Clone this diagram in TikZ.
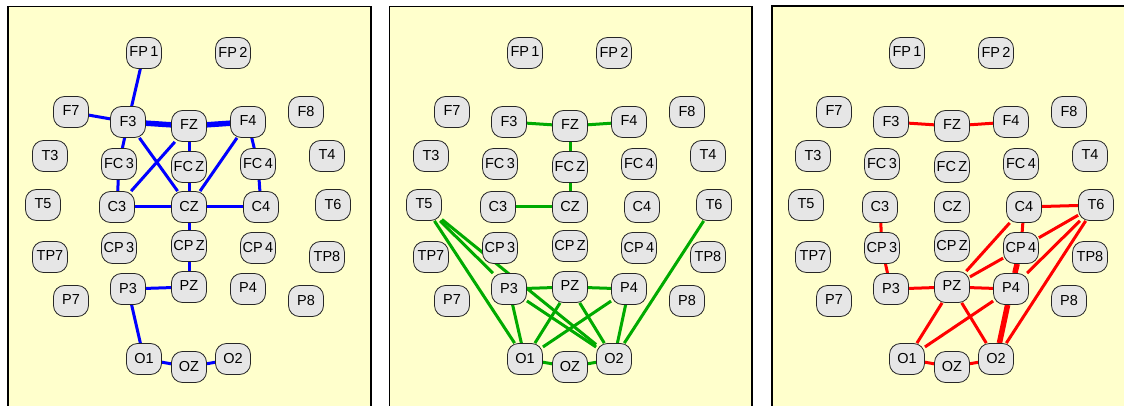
\documentclass[tikz,border=0pt]{standalone}
\usepackage{fontspec}
\setmainfont{Liberation Sans}
\pgfdeclarelayer{back}
\pgfdeclarelayer{edges}
\pgfsetlayers{back,edges,main}
\definecolor{panelbg}{HTML}{FFFFCC}
\definecolor{elfill}{HTML}{E6E6E6}
\definecolor{linkblue}{HTML}{0000FF}
\definecolor{linkgreen}{HTML}{00AA00}
\definecolor{linkred}{HTML}{FF0000}
\tikzset{
  electrode/.style={draw=black!85, line width=0.8pt, fill=elfill, rounded corners=11pt,
    minimum width=35pt, minimum height=31pt, inner sep=0pt,
    font=\fontsize{14.5}{16}\selectfont},
  panelbox/.style={fill=panelbg, draw=black, line width=1.4pt},
  link/.style={line width=3pt},
}
% places the 30 electrodes of one montage; #1 is the name prefix
\newcommand\electrodes[1]{%
  \foreach \n/\x/\y/\t in {FP1/144/53/FP\,1, FP2/233/53/FP\,2,
      F7/71/112/F7, F3/128/122/F3, FZ/189/126/FZ, F4/248/122/F4, F8/306/112/F8,
      T3/50/156/T3, FC3/119/164/FC\,3, FCZ/189/167/FC\,Z, FC4/258/164/FC\,4, T4/327/156/T4,
      T5/43/205/T5, C3/117/207/C3, CZ/189/207/CZ, C4/261/207/C4, T6/333/205/T6,
      TP7/50/257/TP7, CP3/119/248/CP\,3, CPZ/189/246/CP\,Z, CP4/258/248/CP\,4, TP8/327/257/TP8,
      P7/71/301/P7, P3/128/289/P3, PZ/189/287/PZ, P4/248/289/P4, P8/306/301/P8,
      O1/144/359/O1, OZ/189/367/OZ, O2/233/359/O2}
    {\node[electrode] (#1\n) at (\x,\y) {\raisebox{2pt}{\t}};}%
}
\begin{document}
\begin{tikzpicture}[x=1pt,y=-1pt]
\useasboundingbox (0,0) rectangle (1124,406);
\clip (0,0) rectangle (1124,406);

% ---- first montage (blue) ----
\begin{scope}
  \begin{pgfonlayer}{back}
    \draw[panelbox] (8,6.5) rectangle (371,430);
  \end{pgfonlayer}
  \electrodes{a}
  \begin{pgfonlayer}{edges}
    \foreach \u/\v/\w in {FP1/F3/3, F7/F3/3, F3/FZ/5.5, FZ/F4/5.5, F3/FC3/3, FC3/C3/3,
        F3/CZ/3, FZ/C3/3, FZ/FCZ/3, FCZ/CZ/3, F4/CZ/3, F4/FC4/3, FC4/C4/3,
        C3/CZ/3, CZ/C4/3, CZ/CPZ/3, CPZ/PZ/3, P3/PZ/3, P3/O1/3, O1/OZ/3, OZ/O2/3}
      \draw[linkblue, line width=\w pt] (a\u) -- (a\v);
  \end{pgfonlayer}
\end{scope}

% ---- second montage (green) ----
\begin{scope}[xshift=381pt]
  \begin{pgfonlayer}{back}
    \draw[panelbox] (8.5,6.5) rectangle (371,430);
  \end{pgfonlayer}
  \electrodes{b}
  \begin{pgfonlayer}{edges}
    \foreach \u/\v in {F3/FZ, FZ/F4, FZ/FCZ, FCZ/CZ, C3/CZ, T5/P3, T5/O1, T5/O2,
        P3/PZ, PZ/P4, P3/O1, P3/O2, PZ/O1, PZ/O2, P4/O1, P4/O2, T6/O2, O1/OZ, OZ/O2}
      \draw[linkgreen, link] (b\u) -- (b\v);
  \end{pgfonlayer}
\end{scope}

% ---- third montage (red) ----
\begin{scope}[xshift=763pt]
  \begin{pgfonlayer}{back}
    \draw[panelbox] (9,6) rectangle (380,430);
  \end{pgfonlayer}
  \electrodes{c}
  \begin{pgfonlayer}{edges}
    \foreach \u/\v/\w in {F3/FZ/3, FZ/F4/3, C3/CP3/3, CP3/P3/3, P3/PZ/3, PZ/P4/3,
        C4/T6/3, C4/CP4/3, C4/PZ/3, CP4/PZ/3, CP4/T6/3, CP4/P4/5.5, T6/P4/3, T6/O2/3,
        PZ/O1/3, PZ/O2/3, P4/O1/3, P4/O2/5.5, O1/OZ/3, OZ/O2/3}
      \draw[linkred, line width=\w pt] (c\u) -- (c\v);
  \end{pgfonlayer}
\end{scope}
\end{tikzpicture}
\end{document}
